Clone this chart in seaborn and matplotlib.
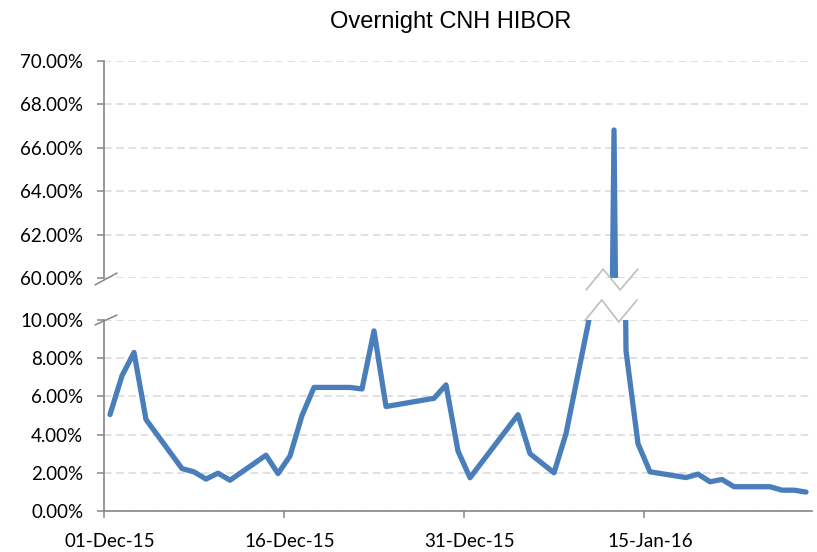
"""
Overnight CNH HIBOR, Dec 2015 - Jan 2016, drawn on a broken y axis.
"""

import matplotlib
matplotlib.use("Agg")
import matplotlib.pyplot as plt
import matplotlib.ticker as mticker
import matplotlib.dates as mdates
import pandas as pd
import seaborn as sns

#  Data (percent, business days)
dates = ["2015-12-01", "2015-12-02", "2015-12-03", "2015-12-04",
         "2015-12-07", "2015-12-08", "2015-12-09", "2015-12-10", "2015-12-11",
         "2015-12-14", "2015-12-15", "2015-12-16", "2015-12-17", "2015-12-18",
         "2015-12-21", "2015-12-22", "2015-12-23", "2015-12-24",
         "2015-12-28", "2015-12-29", "2015-12-30", "2015-12-31",
         "2016-01-04", "2016-01-05", "2016-01-07", "2016-01-08",
         "2016-01-11", "2016-01-12", "2016-01-13", "2016-01-14", "2016-01-15",
         "2016-01-18", "2016-01-19", "2016-01-20", "2016-01-21", "2016-01-22",
         "2016-01-25", "2016-01-26", "2016-01-27", "2016-01-28"]
rates = [5.05, 7.08, 8.30, 4.79,
         2.22, 2.05, 1.67, 1.98, 1.61,
         2.92, 1.96, 2.88, 5.00, 6.47,
         6.47, 6.39, 9.43, 5.47,
         5.90, 6.60, 3.14, 1.74,
         5.04, 3.00, 2.00, 4.05,
         13.40, 66.82, 8.39, 3.52, 2.05,
         1.75, 1.93, 1.53, 1.65, 1.27,
         1.27, 1.09, 1.09, 0.99]

tick_dates = ["2015-12-01", "2015-12-16", "2015-12-31", "2016-01-15"]
tick_labels = ["01-Dec-15", "16-Dec-15", "31-Dec-15", "15-Jan-16"]
x_range = ["2015-12-01", "2016-01-29"]
top_ticks = [60, 62, 64, 66, 68, 70]
bottom_ticks = [0, 2, 4, 6, 8, 10]

#  Style
sns.set_style("white")
plt.rcParams['font.family'] = ['Lato', 'DejaVu Sans']

line_color = '#4a7ebb'
axis_color = '#868686'
grid_color = '#d9d9d9'
label_size = 13.5

#  Excel date axis: points sit in the middle of each day
df = pd.DataFrame({'date': pd.to_datetime(dates) + pd.Timedelta(hours=12),
                   'rate': rates})

fig = plt.figure(figsize=(8.17, 5.52), dpi=100)
ax_top = fig.add_axes([0.1273, 0.4964, 0.8666, 0.3931])
ax_bot = fig.add_axes([0.1273, 0.0743, 0.8666, 0.3460])

for ax, ticks in [(ax_top, top_ticks), (ax_bot, bottom_ticks)]:
    sns.lineplot(data=df, x='date', y='rate', ax=ax, color=line_color,
                 linewidth=3.8, solid_capstyle='round', solid_joinstyle='round')
    ax.set_xlim(pd.to_datetime(x_range[0]), pd.to_datetime(x_range[1]))
    ax.set_ylim(ticks[0], ticks[-1])
    ax.set_yticks(ticks)
    ax.yaxis.set_major_formatter(mticker.FuncFormatter(lambda v, p: f"{v:.2f}%"))
    ax.grid(axis='y', color=grid_color, linestyle=(0, (5, 3)), linewidth=1.1)
    ax.set_axisbelow(True)
    ax.set_xlabel('')
    ax.set_ylabel('')
    for side in ['top', 'right']:
        ax.spines[side].set_visible(False)
    ax.spines['left'].set_color(axis_color)
    ax.spines['left'].set_linewidth(1.2)
    ax.tick_params(axis='y', direction='out', length=5, width=1.1,
                   color=axis_color, labelsize=label_size, labelcolor='black',
                   pad=10, left=True)

#  Top panel: no x axis
ax_top.spines['bottom'].set_visible(False)
ax_top.tick_params(axis='x', which='both', bottom=False, labelbottom=False)

#  Bottom panel: tick marks at midnight, labels centred on the day
ax_bot.spines['bottom'].set_color(axis_color)
ax_bot.spines['bottom'].set_linewidth(1.2)
tick_pos = mdates.date2num(pd.to_datetime(tick_dates))
label_pos = mdates.date2num(pd.to_datetime(tick_dates) + pd.Timedelta(hours=12))
ax_bot.xaxis.set_major_locator(mticker.FixedLocator(tick_pos))
ax_bot.xaxis.set_major_formatter(mticker.NullFormatter())
ax_bot.xaxis.set_minor_locator(mticker.FixedLocator(label_pos))
ax_bot.xaxis.set_minor_formatter(mticker.FixedFormatter(tick_labels))
ax_bot.tick_params(axis='x', which='major', direction='out', length=5,
                   width=1.1, color=axis_color, bottom=True)
ax_bot.tick_params(axis='x', which='minor', length=0, labelsize=label_size,
                   labelcolor='black', pad=16)

#  Break marks on the y axis
ax_top.plot([-0.0127, 0.0184], [-0.032, 0.023], transform=ax_top.transAxes,
            color=axis_color, lw=1.1, clip_on=False)
ax_bot.plot([-0.0127, 0.0184], [0.974, 1.026], transform=ax_bot.transAxes,
            color=axis_color, lw=1.1, clip_on=False)

#  Zigzag break marks round the spike
ax_top.plot([0.681, 0.705, 0.729, 0.754], [-0.055, 0.041, -0.055, 0.041],
            transform=ax_top.transAxes, color='#bfbfbf', lw=1.2, clip_on=False)
ax_bot.plot([0.679, 0.703, 0.727, 0.753], [0.996, 1.105, 0.99, 1.105],
            transform=ax_bot.transAxes, color='#bfbfbf', lw=1.2, clip_on=False)

#  Title
fig.text(0.552, 0.961, 'Overnight CNH HIBOR', ha='center', va='center',
         fontsize=17, color='black', family=['Liberation Sans', 'DejaVu Sans'])

plt.savefig('out.png', dpi=100)
